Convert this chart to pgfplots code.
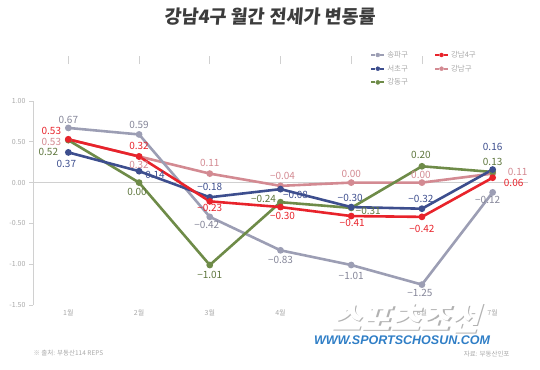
\documentclass[border=0pt]{standalone}
\usepackage{pgfplots}
\usepackage{pgfplotstable}
\pgfplotsset{compat=1.18}
\usepackage{fontspec}
\setmainfont{Noto Sans CJK KR}
\newfontfamily\titlefont{Noto Sans CJK KR}[FakeSlant=0.08]
\newfontfamily\logofont{Noto Sans CJK KR}[FakeSlant=0.3]
\newfontfamily\urlfont{Liberation Sans}

\definecolor{csongpa}{HTML}{9C9EB4}
\definecolor{cred}{HTML}{E8232B}
\definecolor{cseocho}{HTML}{3D4E8E}
\definecolor{cgangnam}{HTML}{D38A92}
\definecolor{cgangdong}{HTML}{6E8B48}
\definecolor{axisgray}{HTML}{D0D0D0}
\definecolor{tickgray}{HTML}{A8A8A8}
\definecolor{titlegray}{HTML}{3C3C3C}
\definecolor{urlblue}{HTML}{2F7EC6}

\pgfplotstableread{
x y dx dy lbl
1 0.67 0 8 0.67
2 0.59 0 10 0.59
3 -0.42 -3 -8 −0.42
4 -0.83 0 -10 −0.83
5 -1.01 0 -11 −1.01
6 -1.25 -2 -8 −1.25
7 -0.12 -5 -8 −0.12
}\tsongpa
\pgfplotstableread{
x y dx dy lbl
1 0.53 -17 8 0.53
2 0.32 0 11 0.32
3 -0.23 0 -7 −0.23
4 -0.30 2 -9 −0.30
5 -0.41 1 -7 −0.41
6 -0.42 0 -12 −0.42
7 0.06 21 -5 0.06
}\tred
\pgfplotstableread{
x y dx dy lbl
1 0.37 -2 -12 0.37
2 0.14 16 -4 0.14
3 -0.18 0 10 −0.18
4 -0.08 15 -6 −0.08
5 -0.30 -1 9 −0.30
6 -0.32 -1 10 −0.32
7 0.16 0 23 0.16
}\tseocho
\pgfplotstableread{
x y dx dy lbl
1 0.53 -17 -3 0.53
2 0.32 0 -8 0.32
3 0.11 0 11 0.11
4 -0.04 2 10 −0.04
5 0.00 0 9 0.00
6 0.00 -1 8 0.00
7 0.11 25 2 0.11
}\tgangnam
\pgfplotstableread{
x y dx dy lbl
1 0.52 -20 -12 0.52
2 0.00 -2 -9 0.00
3 -1.01 0 -10 −1.01
4 -0.24 -17 3 −0.24
5 -0.31 17 -3 −0.31
6 0.20 -1 11 0.20
7 0.13 0 10 0.13
}\tgangdong

\pgfplotsset{
  ssongpa/.style={color=csongpa, line width=2.6pt, mark=*, mark size=2pt, mark options={solid}},
  sred/.style={color=cred, line width=2.6pt, mark=*, mark size=2pt, mark options={solid}},
  sseocho/.style={color=cseocho, line width=2.6pt, mark=*, mark size=2pt, mark options={solid}},
  sgangnam/.style={color=cgangnam, line width=2.6pt, mark=*, mark size=2pt, mark options={solid}},
  sgangdong/.style={color=cgangdong, line width=2.6pt, mark=*, mark size=2pt, mark options={solid}},
}

\begin{document}
\begin{tikzpicture}
\useasboundingbox (0pt,0pt) rectangle (540pt,369pt);
\begin{axis}[
  scale only axis, width=495pt, height=204pt,
  at={(33pt,64pt)}, anchor=south west,
  xmin=0.5, xmax=7.5, ymin=-1.5, ymax=1.0,
  axis y line*=left, axis x line*=bottom,
  x axis line style={draw=none},
  y axis line style={draw=axisgray, line width=0.6pt, -},
  xtick={1,...,7},
  xticklabels={1월,2월,3월,4월,5월,6월,7월},
  major x tick style={draw=none},
  ytick={-1.5,-1,-0.5,0,0.5,1},
  y tick style={draw=axisgray, line width=0.6pt},
  tick align=outside, major tick length=4pt,
  /pgf/number format/assume math mode=true,
  yticklabel style={/pgf/number format/fixed, /pgf/number format/fixed zerofill, /pgf/number format/precision=2},
  tick label style={font=\fontsize{7}{7}\selectfont, text=tickgray},
  xticklabel style={yshift=3pt},
  clip=false,
  nodes near coords, point meta=explicit symbolic,
  visualization depends on={\thisrow{dx} \as \dx},
  visualization depends on={\thisrow{dy} \as \dy},
  every node near coord/.append style={anchor=center, xshift=\dx pt, yshift=\dy pt, font=\fontsize{10}{10}\selectfont, inner sep=0pt},
  legend columns=2,
  legend cell align=left,
  legend image code/.code={\draw[#1, line width=2pt] (0pt,0pt) -- (4pt,0pt); \draw[#1, line width=2pt] (9pt,0pt) -- (13pt,0pt); \fill[#1] (6.5pt,0pt) circle (2pt);},
  legend style={draw=none, fill=none, at={(0.675,1.265)}, anchor=north west,
    font=\fontsize{7.5}{7.5}\selectfont, text=tickgray, row sep=2pt,
    /tikz/every even column/.append style={column sep=24pt}},
]
\draw[axisgray, line width=0.6pt] (axis cs:0.5,0) -- (axis cs:7.5,0);
\draw[axisgray, line width=0.6pt] (axis cs:1.5,0) +(0,-4pt) -- +(0,4pt);
\draw[axisgray, line width=0.6pt] (axis cs:2.5,0) +(0,-4pt) -- +(0,4pt);
\draw[axisgray, line width=0.6pt] (axis cs:3.5,0) +(0,-4pt) -- +(0,4pt);
\draw[axisgray, line width=0.6pt] (axis cs:4.5,0) +(0,-4pt) -- +(0,4pt);
\draw[axisgray, line width=0.6pt] (axis cs:5.5,0) +(0,-4pt) -- +(0,4pt);
\draw[axisgray, line width=0.6pt] (axis cs:6.5,0) +(0,-4pt) -- +(0,4pt);

\addlegendimage{color=csongpa}\addlegendentry{송파구}
\addlegendimage{color=cred}\addlegendentry{강남4구}
\addlegendimage{color=cseocho}\addlegendentry{서초구}
\addlegendimage{color=cgangnam}\addlegendentry{강남구}
\addlegendimage{color=cgangdong}\addlegendentry{강동구}

\addplot[sgangnam, forget plot, every node near coord/.append style={text=cgangnam}] table[x=x, y=y, meta=lbl]{\tgangnam};
\addplot[ssongpa, forget plot, every node near coord/.append style={text=csongpa!85!black}] table[x=x, y=y, meta=lbl]{\tsongpa};
\addplot[sgangdong, forget plot, every node near coord/.append style={text=cgangdong!85!black}] table[x=x, y=y, meta=lbl]{\tgangdong};
\addplot[sseocho, forget plot, every node near coord/.append style={text=cseocho}] table[x=x, y=y, meta=lbl]{\tseocho};
\addplot[sred, forget plot, every node near coord/.append style={text=cred}] table[x=x, y=y, meta=lbl]{\tred};
\end{axis}

\node[text=titlegray, font=\titlefont\bfseries\fontsize{18.5}{19}\selectfont] at (270pt,352pt) {강남4구 월간 전세가 변동률};

% watermark
\node[text=black!30, font=\logofont\bfseries\fontsize{32}{32}\selectfont] at (406.5pt,49.5pt) {스포츠조선};
\node[text=white, font=\logofont\bfseries\fontsize{32}{32}\selectfont, draw=none] at (405pt,51pt) {스포츠조선};
\node[text=urlblue, font=\urlfont\bfseries\itshape\fontsize{12.5}{13}\selectfont] at (402pt,29pt) {WWW.SPORTSCHOSUN.COM};

\node[text=tickgray, font=\fontsize{6.5}{7}\selectfont, anchor=west] at (30pt,16pt) {※ 출처: 부동산114 REPS};
\node[text=tickgray, font=\fontsize{6.5}{7}\selectfont, anchor=east] at (513pt,15pt) {자료: 부동산인포};
\end{tikzpicture}
\end{document}
